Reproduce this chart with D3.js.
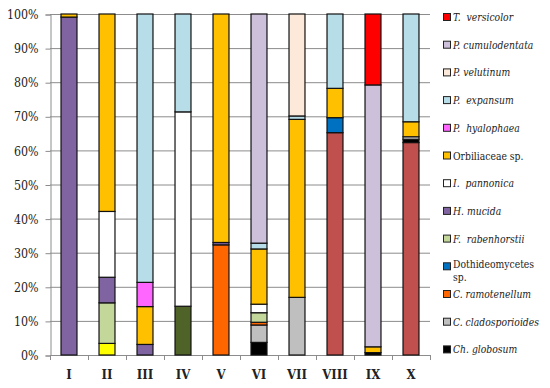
<!DOCTYPE html>
<html>
<head>
<meta charset="utf-8">
<script src="https://cdn.jsdelivr.net/npm/d3@7"></script>
<style>
  body { margin: 0; background: #fff; }
  svg { display: block; }
</style>
</head>
<body>
<script>

var categories = ["I", "II", "III", "IV", "V", "VI", "VII", "VIII", "IX", "X"];

// stack order, bottom to top. the first three have no legend entry in the picture
var seriesNames = ["extra1", "extra2", "extra3",
    "Ch. globosum", "C. cladosporioides", "C. ramotenellum", "Dothideomycetes sp.",
    "F. rabenhorstii", "H. mucida", "I. pannonica", "Orbiliaceae sp.", "P. hyalophaea",
    "P. expansum", "P. velutinum", "P. cumulodentata", "T. versicolor"];

var seriesColors = ["#C0504D", "#4F6228", "#FFFF00",
    "#000000", "#BFBFBF", "#FF6600", "#0070C0",
    "#C4D79B", "#8064A2", "#FFFFFF", "#FFC000", "#FF66FF",
    "#B7DEE8", "#FDE9D9", "#CCC0DA", "#FF0000"];

var seriesValues = [
    [0, 0, 0, 0, 0, 0, 0, 65.2, 0, 62.3],
    [0, 0, 0, 14.3, 0, 0, 0, 0, 0, 0],
    [0, 3.4, 0, 0, 0, 0, 0, 0, 0, 0],
    [0, 0, 0, 0, 0, 3.7, 0, 0, 0.7, 1.0],
    [0, 0, 0, 0, 0, 5.1, 16.9, 0, 0, 0],
    [0, 0, 0, 0, 32.3, 0.8, 0, 0, 0, 0],
    [0, 0, 0, 0, 0, 0, 0, 4.4, 0, 0],
    [0, 11.9, 0, 0, 0, 2.8, 0, 0, 0, 0],
    [99.1, 7.5, 3.1, 0, 0.7, 0, 0, 0, 0, 0],
    [0, 19.3, 0, 57.0, 0, 2.5, 0, 0, 0, 0.7],
    [0.9, 57.9, 11.1, 0, 67.0, 16.2, 52.2, 8.6, 1.7, 4.4],
    [0, 0, 7.1, 0, 0, 0, 0, 0, 0, 0],
    [0, 0, 78.7, 28.7, 0, 1.7, 1.0, 21.8, 0, 31.6],
    [0, 0, 0, 0, 0, 0, 29.9, 0, 0, 0],
    [0, 0, 0, 0, 0, 67.2, 0, 0, 76.8, 0],
    [0, 0, 0, 0, 0, 0, 0, 0, 20.8, 0]
];

var yTicks = [0, 10, 20, 30, 40, 50, 60, 70, 80, 90, 100];

// legend as in the picture, top to bottom
var legendItems = [
    { name: "T.  versicolor", italic: true, color: "#FF0000" },
    { name: "P. cumulodentata", italic: true, color: "#CCC0DA" },
    { name: "P. velutinum", italic: true, color: "#FDE9D9" },
    { name: "P.  expansum", italic: true, color: "#B7DEE8" },
    { name: "P.  hyalophaea", italic: true, color: "#FF66FF" },
    { name: "Orbiliaceae sp.", italic: false, color: "#FFC000" },
    { name: "I.  pannonica", italic: true, color: "#FFFFFF" },
    { name: "H. mucida", italic: true, color: "#8064A2" },
    { name: "F.  rabenhorstii", italic: true, color: "#C4D79B" },
    { name: "Dothideomycetes|sp.", italic: false, color: "#0070C0" },
    { name: "C. ramotenellum", italic: true, color: "#FF6600" },
    { name: "C. cladosporioides", italic: true, color: "#BFBFBF" },
    { name: "Ch. globosum", italic: true, color: "#000000" }
];

var serif = "DejaVu Serif";

var width = 550, height = 388;
var plot = { left: 50, right: 430, top: 14, bottom: 355 };

var svg = d3.select("body").append("svg")
    .attr("width", width)
    .attr("height", height);

var x = d3.scaleBand()
    .domain(categories)
    .range([plot.left, plot.right])
    .paddingInner(0.58)
    .paddingOuter(0.29);

var y = d3.scaleLinear()
    .domain([0, 100])
    .range([plot.bottom, plot.top]);

// rows for d3.stack
var rows = categories.map(function (c, i) {
    var r = { cat: c };
    seriesNames.forEach(function (s, j) { r[s] = seriesValues[j][i]; });
    return r;
});

var stacked = d3.stack().keys(seriesNames)(rows);

// squeeze DejaVu a bit so it takes the room of the narrower original face
function squeeze(sel, k) {
    sel.each(function () {
        var w = this.getComputedTextLength();
        d3.select(this).attr("textLength", w * k).attr("lengthAdjust", "spacingAndGlyphs");
    });
}

// grid
svg.append("g").selectAll("line")
    .data(yTicks.filter(function (d) { return d > 0; }))
    .enter().append("line")
    .attr("x1", plot.left).attr("x2", plot.right)
    .attr("y1", function (d) { return y(d) + 0.5; })
    .attr("y2", function (d) { return y(d) + 0.5; })
    .attr("stroke", "#8c8c8c")
    .attr("stroke-width", 1);

// y axis
var yAxis = svg.append("g")
    .attr("transform", "translate(" + (plot.left + 0.5) + ",0.5)")
    .call(d3.axisLeft(y).tickValues(yTicks).tickSize(5).tickPadding(7)
        .tickFormat(function (d) { return d + "%"; }));
yAxis.attr("font-family", serif).attr("font-size", 13);
yAxis.select(".domain").attr("stroke", "#8c8c8c");
yAxis.selectAll(".tick line").attr("stroke", "#8c8c8c");
yAxis.selectAll("text").attr("fill", "#222").call(squeeze, 0.85);

// x axis: ticks sit between categories
var xAxisG = svg.append("g").attr("class", "xAxis");
xAxisG.append("line")
    .attr("x1", plot.left).attr("x2", plot.right + 1)
    .attr("y1", plot.bottom + 0.5).attr("y2", plot.bottom + 0.5)
    .attr("stroke", "#8c8c8c");
xAxisG.selectAll("line.tk")
    .data(d3.range(categories.length + 1))
    .enter().append("line").attr("class", "tk")
    .attr("x1", function (i) { return plot.left + i * x.step() + 0.5; })
    .attr("x2", function (i) { return plot.left + i * x.step() + 0.5; })
    .attr("y1", plot.bottom).attr("y2", plot.bottom + 5)
    .attr("stroke", "#8c8c8c");
xAxisG.selectAll("text")
    .data(categories)
    .enter().append("text")
    .attr("x", function (d) { return x(d) + x.bandwidth() / 2; })
    .attr("y", 379)
    .attr("text-anchor", "middle")
    .attr("font-family", serif)
    .attr("font-size", 13)
    .attr("font-weight", "bold")
    .attr("fill", "#222")
    .text(function (d) { return d; })
    .call(squeeze, 0.9);

// bars
var layer = svg.append("g").selectAll("g")
    .data(stacked)
    .enter().append("g")
    .attr("fill", function (d, i) { return seriesColors[i]; });

layer.selectAll("rect")
    .data(function (d) { return d.filter(function (p) { return p[1] - p[0] > 0; }); })
    .enter().append("rect")
    .attr("x", function (d) { return x(d.data.cat); })
    .attr("width", x.bandwidth())
    .attr("y", function (d) { return y(d[1]); })
    .attr("height", function (d) { return y(d[0]) - y(d[1]); })
    .attr("stroke", "#111")
    .attr("stroke-width", 1.2);

// legend
var legend = svg.append("g").attr("class", "legend");
var lg = legend.selectAll("g")
    .data(legendItems)
    .enter().append("g")
    .attr("transform", function (d, i) { return "translate(443," + (17 + i * 27.7) + ")"; });

lg.append("rect")
    .attr("x", 0.5).attr("y", -3.5)
    .attr("width", 7).attr("height", 7)
    .attr("fill", function (d) { return d.color; })
    .attr("stroke", "#222");

lg.append("text")
    .attr("x", 10)
    .attr("y", function (d) { return d.name.indexOf("|") > 0 ? 2 : 4 ; })
    .attr("font-family", serif)
    .attr("font-size", 10.5)
    .attr("font-style", function (d) { return d.italic ? "italic" : "normal"; })
    .style("white-space", "pre")
    .attr("fill", "#222")
    .each(function (d) {
        var parts = d.name.split("|");
        var t = d3.select(this);
        parts.forEach(function (p, k) {
            t.append("tspan")
                .attr("x", 10)
                .attr("dy", k === 0 ? 0 : 13)
                .text(p);
        });
    })
    .selectAll("tspan").call(squeeze, 0.88);

</script>
</body>
</html>
